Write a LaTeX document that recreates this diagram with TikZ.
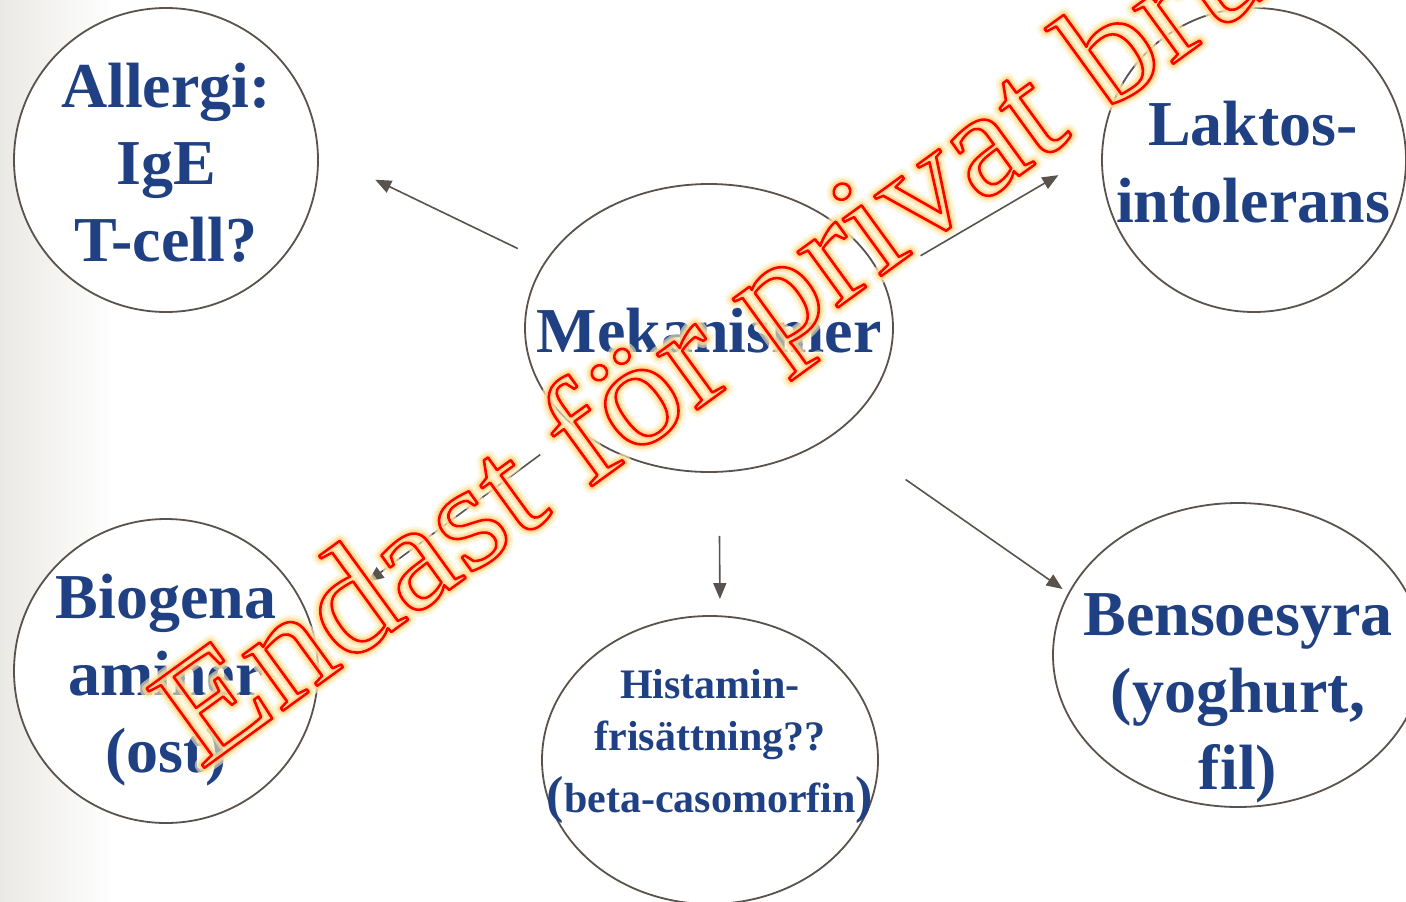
\documentclass[tikz,border=0pt]{standalone}
\usepackage{fontspec}
\setmainfont{Liberation Serif}
\usetikzlibrary{shapes.geometric,arrows.meta}
\definecolor{ring}{RGB}{90,82,76}
\definecolor{lblue}{RGB}{31,64,130}
\definecolor{bgl}{RGB}{234,233,229}
\newcommand{\wmstr}{Endast för privat bruk}
\newcommand{\wmlayer}[2]{\rlap{\special{pdf:literal direct #1 RG #2 w 1 j 1 Tr}\wmstr\special{pdf:literal direct 0 Tr}}}
\tikzset{
 bub/.style={shape=ellipse, draw=ring, line width=1.8pt, fill=white, inner sep=0pt, outer sep=0pt},
 lbl/.style={anchor=base, inner sep=0pt, text=lblue, font=\bfseries\fontsize{64}{77}\selectfont},
 arr/.style={draw=ring, line width=1.6pt, -{Triangle[length=16pt,width=13pt]}},
 wmark/.style={anchor=base west, inner sep=0pt, rotate=36, xscale=1.07, font=\fontsize{150}{150}\selectfont}
}
\begin{document}
\begin{tikzpicture}[x=1pt,y=-1pt]
\useasboundingbox (0,0) rectangle (1406,902);
\shade[left color=bgl, right color=white] (0,0) rectangle (115,902);
% bubbles
\node[bub, minimum width=304pt, minimum height=304pt] (al) at (166,160) {};
\node[bub, minimum width=304pt, minimum height=304pt] (lk) at (1254,160) {};
\node[bub, minimum width=368pt, minimum height=288pt] (m) at (709,328) {};
\node[bub, minimum width=304pt, minimum height=304pt] (bg) at (166,671) {};
\node[bub, minimum width=336pt, minimum height=288pt] (hi) at (710,760) {};
\node[bub, minimum width=370pt, minimum height=304pt] (bs) at (1238,655) {};
% labels
\node[lbl] (al-t) at (166,107) {\begin{tabular}[t]{@{}c@{}}Allergi:\\IgE\\T-cell?\end{tabular}};
\node[lbl] (lk-t) at (1253,145) {\begin{tabular}[t]{@{}c@{}}Laktos-\\intolerans\end{tabular}};
\node[lbl] (m-t) at (709,352) {Mekanismer};
\node[lbl] (bg-t) at (166,618) {\begin{tabular}[t]{@{}c@{}}Biogena\\aminer\\(ost)\end{tabular}};
\node[lbl, font=\bfseries\fontsize{42}{52}\selectfont] (hi-t) at (710,698) {\begin{tabular}[t]{@{}c@{}}Histamin-\\frisättning??\\[10pt]{\fontsize{52}{52}\selectfont(}beta-casomorfin{\fontsize{52}{52}\selectfont)}\end{tabular}};
\node[lbl] (bs-t) at (1238,635) {\begin{tabular}[t]{@{}c@{}}Bensoesyra\\(yoghurt,\\fil)\end{tabular}};
% arrows
\draw[arr, shorten <=30.8pt, shorten >=63.8pt] (m.158.6) -- (al.3.1);
\draw[arr, shorten <=45pt, shorten >=51pt] (m.16) -- (lk.176.8);
\draw[arr, shorten <=45pt, shorten >=71pt] (m.217.9) -- (bg.18.1);
\draw[arr, shorten <=64.2pt, shorten >=17.2pt] (m.-86.4) -- (hi.86.8);
\draw[arr, shorten <=83.8pt, shorten >=7.7pt] (m.-39.2) -- (bs.160.3);
% watermark: soft glow, then red outline
\begin{scope}[draw opacity=0.6]
\node[wmark] (wm-glow) at (200,771) {\wmlayer{1 0.94 0.78}{14}\wmlayer{1 0.88 0.6}{9}\wmlayer{1 0.8 0.45}{5.5}};
\end{scope}
\node[wmark] (wm) at (200,771) {\wmlayer{1 0 0}{2.5}};
\end{tikzpicture}
\end{document}
